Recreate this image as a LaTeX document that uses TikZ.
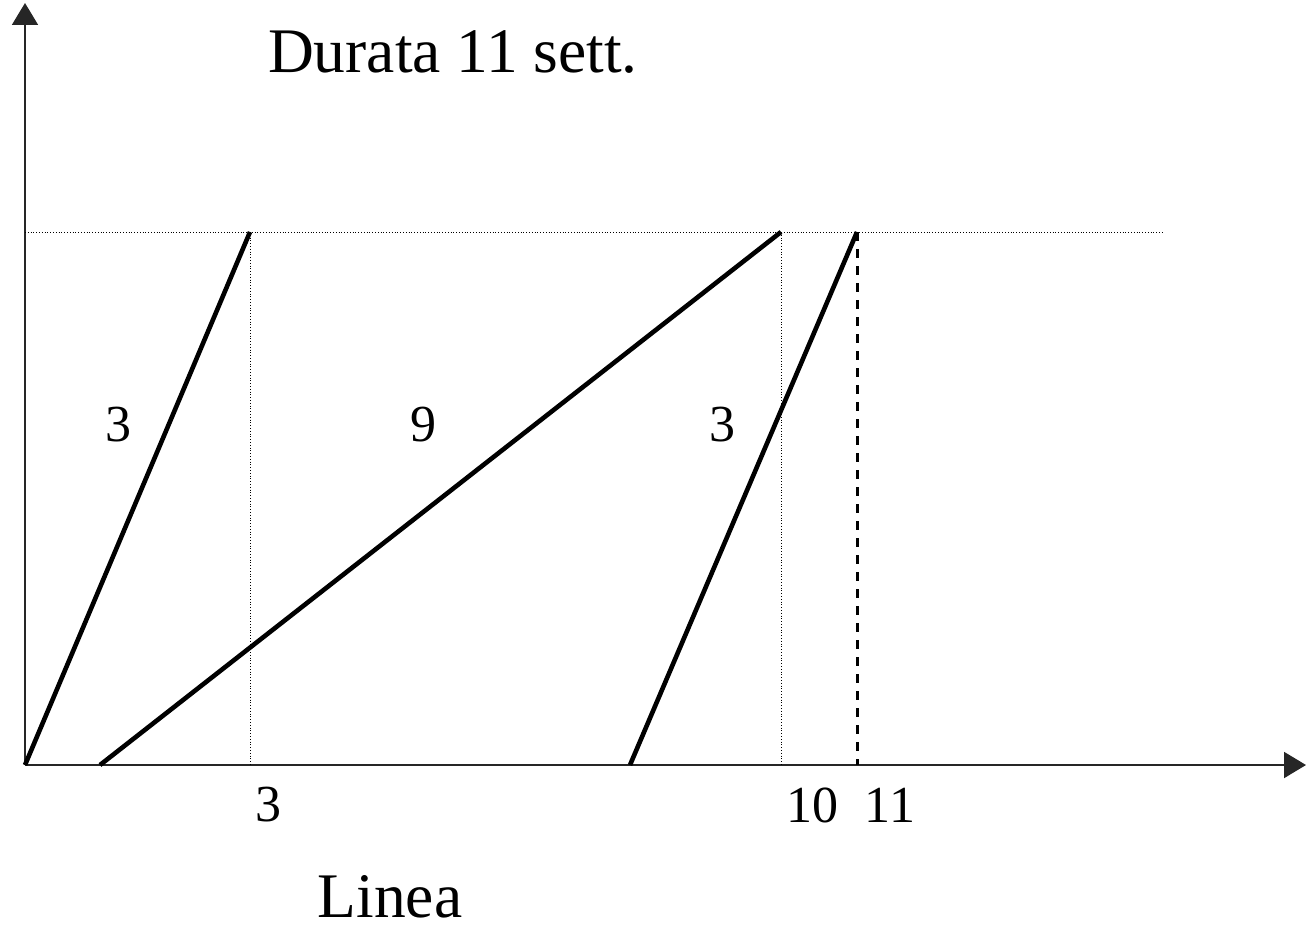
\documentclass[tikz,border=0pt]{standalone}
\usepackage{fontspec}
\setmainfont{Liberation Serif}
\usetikzlibrary{positioning,arrows.meta}

\begin{document}
\begin{tikzpicture}[
  x=1pt, y=-1pt,
  axis/.style={line width=2pt, draw=black!85, -{Triangle[length=22pt, width=26pt]}},
  guide/.style={line width=0.8pt, dotted},
  mark11/.style={line width=3pt, dash pattern=on 9pt off 8pt},
  phase/.style={line width=4.6pt},
  num/.style={font=\fontsize{52}{60}\selectfont, inner sep=0pt},
  title/.style={font=\fontsize{63.5}{70}\selectfont, inner sep=0pt}
]
\useasboundingbox (0,0) rectangle (1306,931);
\coordinate (O)    at (25,765);
\coordinate (ytop) at (25,3);
\coordinate (xend) at (1306,765);
\coordinate (top)  at (1162,232);
\coordinate (a0) at (25,765);  \coordinate (a1) at (250,232);
\coordinate (b0) at (100,765); \coordinate (b1) at (781,232);
\coordinate (c0) at (630,765); \coordinate (c1) at (857,232);
% axes
\draw[axis] (O) -- (ytop);
\draw[axis] (O) -- (xend);
% guides
\draw[guide] (O |- top) -- (top);
\draw[guide] (a1) -- (a1 |- O);
\draw[guide] (b1) -- (b1 |- O);
\draw[mark11] (c1) -- (c1 |- O);
% phases
\draw[phase] (a0) -- (a1);
\draw[phase] (b0) -- (b1);
\draw[phase] (c0) -- (c1);
% labels
\node[num] (la) at (118,425) {3};
\node[num] (lb) at (423,425) {9};
\node[num] (lc) at (722,425) {3};
\node[num] (t3)  at (268,805) {3};
\node[num] (t11) at (851,805) {10\ \ 11};
\node[title] (dur) at (453,52) {Durata 11 sett.};
\node[title] (lin) at (390,897) {Linea};
\end{tikzpicture}
\end{document}
